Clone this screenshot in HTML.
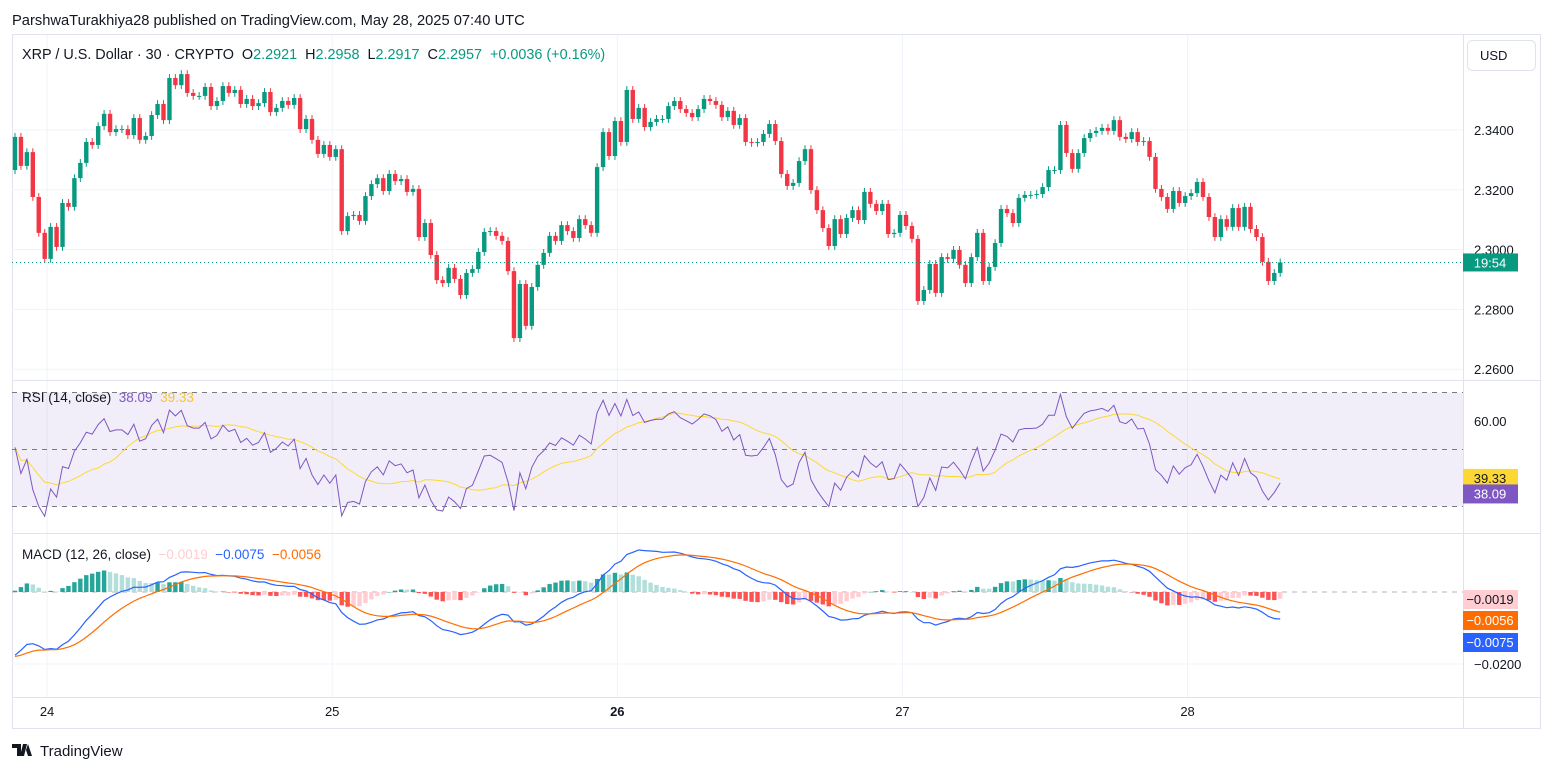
<!DOCTYPE html>
<html><head><meta charset="utf-8"><style>
html,body{margin:0;padding:0;background:#fff;width:1553px;height:772px;overflow:hidden}
svg{display:block;font-family:"Liberation Sans",sans-serif}
.pre{white-space:pre}
</style></head><body>
<svg id="c" width="1553" height="772" viewBox="0 0 1553 772">
<text x="12" y="25" font-size="14.7" fill="#131722">ParshwaTurakhiya28 published on TradingView.com, May 28, 2025 07:40 UTC</text>
<rect x="12.5" y="34.5" width="1528" height="694" fill="none" stroke="#e0e3eb"/>
<g id="grid"></g>
<g id="main"></g>
<g id="rsi"></g>
<g id="macd"></g>
<g id="axes"></g>
<text class="pre" x="22" y="59" font-size="14.4" fill="#131722">XRP / U.S. Dollar · 30 · CRYPTO  O<tspan fill="#089981">2.2921</tspan>  H<tspan fill="#089981">2.2958</tspan>  L<tspan fill="#089981">2.2917</tspan>  C<tspan fill="#089981">2.2957</tspan>  <tspan fill="#089981">+0.0036 (+0.16%)</tspan></text>
<rect x="1467.5" y="40.5" width="68" height="30" rx="5" fill="#fff" stroke="#e0e3eb"/>
<text x="1480" y="60" font-size="13" fill="#131722">USD</text>
<text class="pre" x="22" y="402" font-size="13.5" fill="#131722">RSI (14, close)  <tspan fill="#7e57c2">38.09</tspan>  <tspan fill="#f7c530">39.33</tspan></text>
<text class="pre" x="22" y="559" font-size="13.5" fill="#131722">MACD (12, 26, close)  <tspan fill="#ffcdd2">−0.0019</tspan>  <tspan fill="#2962ff">−0.0075</tspan>  <tspan fill="#ff6d00">−0.0056</tspan></text>
<g><path d="M12 744h9v12h-4v-8h-5z M23 744h4l-3 12h-4z M28 744l4 12h-4l-2-6z" fill="#131722"/><text x="40" y="756" font-size="15" fill="#131722">TradingView</text></g>
</svg>
<script>
const closes=[2.3377,2.3280,2.3326,2.3176,2.3056,2.2969,2.3076,2.3009,2.3156,2.3143,2.3239,2.3290,2.3360,2.3350,2.3413,2.3454,2.3393,2.3403,2.3403,2.3383,2.3440,2.3367,2.3380,2.3450,2.3487,2.3433,2.3574,2.3550,2.3587,2.3524,2.3514,2.3514,2.3544,2.3480,2.3497,2.3547,2.3524,2.3534,2.3487,2.3504,2.3480,2.3490,2.3527,2.3460,2.3474,2.3497,2.3484,2.3507,2.3403,2.3437,2.3367,2.3320,2.3350,2.3310,2.3336,2.3062,2.3112,2.3116,2.3096,2.3179,2.3219,2.3239,2.3196,2.3253,2.3229,2.3236,2.3193,2.3203,2.3042,2.3089,2.2982,2.2898,2.2888,2.2939,2.2902,2.2848,2.2922,2.2935,2.2992,2.3059,2.3062,2.3046,2.3029,2.2928,2.2704,2.2885,2.2745,2.2875,2.2949,2.2989,2.3046,2.3029,2.3082,2.3062,2.3039,2.3102,2.3082,2.3056,2.3276,2.3393,2.3313,2.3430,2.3360,2.3534,2.3437,2.3474,2.3410,2.3427,2.3437,2.3437,2.3480,2.3497,2.3470,2.3457,2.3443,2.3470,2.3504,2.3497,2.3484,2.3443,2.3464,2.3417,2.3440,2.3360,2.3357,2.3360,2.3387,2.3420,2.3363,2.3253,2.3213,2.3223,2.3296,2.3336,2.3199,2.3132,2.3072,2.3012,2.3102,2.3052,2.3106,2.3132,2.3099,2.3193,2.3153,2.3129,2.3153,2.3052,2.3056,2.3116,2.3079,2.3036,2.2828,2.2865,2.2952,2.2855,2.2975,2.2969,2.2999,2.2949,2.2888,2.2975,2.3056,2.2895,2.2942,2.3022,2.3136,2.3122,2.3089,2.3173,2.3183,2.3183,2.3186,2.3209,2.3266,2.3266,2.3417,2.3323,2.3270,2.3323,2.3373,2.3390,2.3397,2.3407,2.3397,2.3433,2.3377,2.3370,2.3393,2.3360,2.3363,2.3310,2.3203,2.3176,2.3136,2.3196,2.3156,2.3179,2.3189,2.3226,2.3176,2.3109,2.3042,2.3102,2.3076,2.3139,2.3076,2.3143,2.3069,2.3042,2.2959,2.2895,2.2922,2.2957];
const firstOpen=2.3266;
const priceTicks=[2.34,2.32,2.30,2.28,2.26];
const rsiTicks=[60];
const macdTicks=[0,-0.02];
const dayLabels=['24','25','26','27','28'];
const dayBold=[false,false,true,false,false];

const NS='http://www.w3.org/2000/svg';
function el(tag,attrs,parent){const e=document.createElementNS(NS,tag);for(const k in attrs)e.setAttribute(k,attrs[k]);parent.appendChild(e);return e;}
const PL=12,PR=1463,barW=5.94,X0=15;
const xOf=i=>X0+i*barW;
const yP=p=>130+(2.34-p)*2990;
const yR=v=>421+(60-v)*2.85;
const yM=v=>592-v*3600;
const grid=document.getElementById('grid'),main=document.getElementById('main'),rsiG=document.getElementById('rsi'),macdG=document.getElementById('macd'),axes=document.getElementById('axes');

[380,533,697].forEach(y=>{const l=el('line',{x1:12,x2:1540,y1:y+.5,y2:y+.5,stroke:'#e0e3eb'},axes);

});
const vs=el('line',{x1:PR+.5,x2:PR+.5,y1:35,y2:728,stroke:'#e0e3eb'},axes);



dayLabels.forEach((d,k)=>{const x=X0+(5.4+48*k)*barW;
const g=el('line',{x1:x,x2:x,y1:35,y2:697,stroke:'#f0f3fa'},grid);


const t=el('text',{x:x,y:716,'font-size':13,'text-anchor':'middle',fill:'#131722','font-weight':dayBold[k]?'bold':'normal'},axes);t.textContent=d;

});

priceTicks.forEach(p=>{const y=yP(p);
const g=el('line',{x1:PL,x2:PR,y1:y,y2:y,stroke:'#f0f3fa'},grid);


const t=el('text',{x:1474,y:y+5,'font-size':13,fill:'#131722'},axes);t.textContent=p.toFixed(4);

});

let prev=firstOpen;
closes.forEach((c,i)=>{const o=prev;prev=c;const up=c>=o;const col=up?'#089981':'#f23645';const x=xOf(i);
const hi=Math.max(o,c)+0.0013,lo=Math.min(o,c)-0.0013;
const w=el('line',{x1:x,x2:x,y1:yP(hi),y2:yP(lo),stroke:col,'stroke-width':1},main);


const yt=yP(Math.max(o,c)),yb=yP(Math.min(o,c));
const b=el('rect',{x:x-2.2,y:yt,width:4.4,height:Math.max(1,yb-yt),fill:col},main);

});
const last=closes[closes.length-1];
const pl=el('line',{x1:PL,x2:PR,y1:yP(last),y2:yP(last),stroke:'#089981','stroke-dasharray':'1 3'},main);


const pb=el('rect',{x:1463,y:yP(last)-9,width:55,height:18,fill:'#089981'},axes);


const pt=el('text',{x:1490,y:yP(last)+5,'font-size':13,fill:'#fff','text-anchor':'middle'},axes);pt.textContent='19:54';



// RSI
let ag=0.0010,al=0.0018;const rsi=[];prev=firstOpen;
closes.forEach(c=>{const d=c-prev;prev=c;ag=(ag*13+Math.max(d,0))/14;al=(al*13+Math.max(-d,0))/14;rsi.push(100-100/(1+ag/al));});
const rsiMA=rsi.map((v,i)=>{const s=rsi.slice(Math.max(0,i-13),i+1);return s.reduce((a,b)=>a+b,0)/s.length;});
const band=el('rect',{x:PL,y:yR(70),width:PR-PL,height:yR(30)-yR(70),fill:'rgba(126,87,194,0.1)'},rsiG);


[70,50,30].forEach(v=>{const l=el('line',{x1:PL,x2:PR,y1:yR(v),y2:yR(v),stroke:'#787b86','stroke-dasharray':'5 5','stroke-width':1},rsiG);

});
rsiTicks.forEach(v=>{const t=el('text',{x:1474,y:yR(v)+5,'font-size':13,fill:'#131722'},axes);t.textContent=v.toFixed(2);

});
const pts=(arr,fy)=>arr.map((v,i)=>xOf(i).toFixed(1)+','+fy(v).toFixed(1)).join(' ');
const rm=el('polyline',{points:pts(rsiMA,yR),fill:'none',stroke:'#fdd835','stroke-width':1},rsiG);


const rl=el('polyline',{points:pts(rsi,yR),fill:'none',stroke:'#7e57c2','stroke-width':1},rsiG);



// MACD
let e12=2.3255,e26=2.3455,sig=-0.0180;const macd=[],sg=[],hist=[];
const k12=2/13,k26=2/27,k9=2/10;
closes.forEach(c=>{e12=c*k12+e12*(1-k12);e26=c*k26+e26*(1-k26);const m=e12-e26;sig=m*k9+sig*(1-k9);macd.push(m);sg.push(sig);hist.push(m-sig);});
const z=el('line',{x1:PL,x2:PR,y1:yM(0),y2:yM(0),stroke:'#b2b5be','stroke-dasharray':'5 5'},macdG);


const g2=el('line',{x1:PL,x2:PR,y1:yM(-0.02),y2:yM(-0.02),stroke:'#f0f3fa'},grid);


hist.forEach((h,i)=>{const p=i?hist[i-1]:h;let col;if(h>=0)col=h>=p?'#26a69a':'#b2dfdb';else col=h<p?'#ff5252':'#ffcdd2';
const y1=yM(Math.max(h,0)),y2=yM(Math.min(h,0));
const r=el('rect',{x:xOf(i)-2.2,y:y1,width:4.4,height:Math.max(.5,y2-y1),fill:col},macdG);

});
const ml=el('polyline',{points:pts(macd,yM),fill:'none',stroke:'#2962ff','stroke-width':1.2},macdG);


const sl=el('polyline',{points:pts(sg,yM),fill:'none',stroke:'#ff6d00','stroke-width':1.2},macdG);


const tl=el('text',{x:1474,y:yM(-0.02)+5,'font-size':13,fill:'#131722'},axes);tl.textContent='−0.0200';



const badges=[[yR(39.33)-2,'#fdd835','#131722','39.33','rsi-ma-badge'],[yR(38.09)+10,'#7e57c2','#fff','38.09','rsi-badge'],[599,'#ffcdd2','#131722','−0.0019','histogram-badge'],[620,'#ff6d00','#fff','−0.0056','signal-badge'],[642,'#2962ff','#fff','−0.0075','macd-badge']];
badges.forEach(b=>{const r=el('rect',{x:1463,y:b[0]-9,width:55,height:19,fill:b[1]},axes);


const t=el('text',{x:1490,y:b[0]+5,'font-size':13,fill:b[2],'text-anchor':'middle'},axes);t.textContent=b[3];

});
</script>
</body></html>
